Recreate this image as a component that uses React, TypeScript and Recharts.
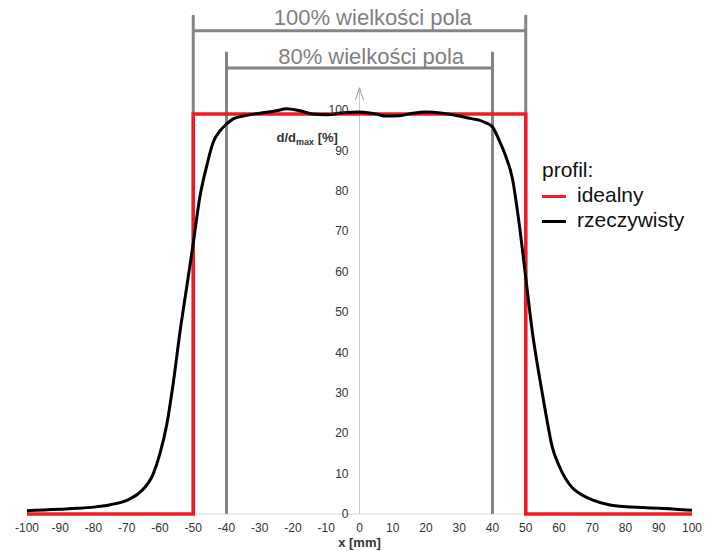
import React from 'react';
import {
  LineChart,
  Line,
  XAxis,
  YAxis,
  ReferenceLine,
  ReferenceDot
} from 'recharts';

// measured profile (x in mm, dose in % of max)
const measuredX = [
  -100, -95, -90, -85, -80, -75, -70, -66, -62, -60, -58, -56, -54, -52, -50, -48, -46, -44, -42, -40,
  -38, -35, -30, -25, -22, -18, -14, -10, -5, 0, 5, 8, 12, 16, 20, 25, 30, 34, 36, 38,
  40, 42, 44, 46, 48, 50, 52, 54, 56, 58, 60, 62, 64, 66, 70, 75, 80, 85, 90, 95, 100
];
const measuredY = [
  0.8, 1.0, 1.2, 1.4, 1.7, 2.3, 3.4, 5.4, 10, 15, 22, 32.5, 45, 56, 67, 78.5, 86, 92, 94.8, 96.5,
  97.8, 98.5, 99.2, 99.8, 100.3, 99.8, 99, 98.8, 99.3, 99.5, 99, 98.5, 98.6, 99.2, 99.5, 99.2, 98.5, 97.8, 97.5, 96.8,
  95.8, 92.5, 88.5, 83, 72, 58.5, 45, 34.5, 25, 16.5, 12, 8.7, 6.5, 5.2, 3.5, 2.3, 1.8, 1.6, 1.4, 1.2, 0.9
];

// ideal (rectangular) profile
const idealX = [-100, -50, -50, 50, 50, 100];
const idealY = [0, 0, 99, 99, 0, 0];

const xTicks = [-100, -90, -80, -70, -60, -50, -40, -30, -20, -10, 0, 10, 20, 30, 40, 50, 60, 70, 80, 90, 100];
const yTicks = [0, 10, 20, 30, 40, 50, 60, 70, 80, 90, 100];

const measured = measuredX.map((x, i) => ({ x, y: measuredY[i] }));
const ideal = idealX.map((x, i) => ({ x, y: idealY[i] }));

const GRAY = '#858585';
const FONT = '"Liberation Sans", Arial, sans-serif';

const YLabel = (props: any) => {
  const { viewBox } = props;
  return (
    <text x={viewBox.x} y={viewBox.y} textAnchor="end" fontFamily={FONT} fontWeight="bold" fontSize={13} fill="#333">
      d/d<tspan fontSize={9} dy={3}>max</tspan>
      <tspan dy={-3}> [%]</tspan>
    </text>
  );
};

const XLabel = (props: any) => {
  const { viewBox } = props;
  return (
    <text x={viewBox.x + viewBox.width / 2} y={viewBox.y + viewBox.height - 4} textAnchor="middle"
      fontFamily={FONT} fontWeight="bold" fontSize={13} fill="#333">
      x [mm]
    </text>
  );
};

export default function App() {
  return (
    <div style={{ position: 'absolute', left: 0, top: 0, width: 705, height: 551, background: '#fff', fontFamily: FONT }}>
      <LineChart width={705} height={551} margin={{ top: 9, right: 13, bottom: 0, left: 27 }}>
        <XAxis
          type="number"
          dataKey="x"
          domain={[-100, 100]}
          ticks={xTicks}
          interval={0}
          tickLine={false}
          axisLine={false}
          tick={{ fontSize: 12, fill: '#333', fontFamily: FONT }}
          tickMargin={3}
          height={37}
          label={<XLabel />}
        />
        <YAxis type="number" dataKey="y" domain={[0, 125]} hide />

        <ReferenceLine y={0} stroke="#d9d9d9" strokeWidth={1} />

        {/* centre axis with arrow */}
        <ReferenceLine segment={[{ x: 0, y: 0 }, { x: 0, y: 105.5 }]} stroke="#c8c8c8" strokeWidth={1} />
        <ReferenceLine segment={[{ x: -1.2, y: 102.5 }, { x: 0, y: 105.5 }]} stroke="#999" strokeWidth={1} />
        <ReferenceLine segment={[{ x: 1.2, y: 102.5 }, { x: 0, y: 105.5 }]} stroke="#999" strokeWidth={1} />

        {/* field size brackets */}
        <ReferenceLine segment={[{ x: -50, y: 0 }, { x: -50, y: 123.5 }]} stroke={GRAY} strokeWidth={3} />
        <ReferenceLine segment={[{ x: 50, y: 0 }, { x: 50, y: 123.5 }]} stroke={GRAY} strokeWidth={3} />
        <ReferenceLine segment={[{ x: -50, y: 119.6 }, { x: 50, y: 119.6 }]} stroke={GRAY} strokeWidth={3} />
        <ReferenceLine segment={[{ x: -40, y: 0 }, { x: -40, y: 114.4 }]} stroke={GRAY} strokeWidth={3} />
        <ReferenceLine segment={[{ x: 40, y: 0 }, { x: 40, y: 114.4 }]} stroke={GRAY} strokeWidth={3} />
        <ReferenceLine segment={[{ x: -40, y: 110.4 }, { x: 40, y: 110.4 }]} stroke={GRAY} strokeWidth={3} />

        <ReferenceDot x={4} y={123} r={0} fill="none" stroke="none"
          label={{ value: '100% wielkości pola', position: 'center', fill: '#7f7f7f', fontSize: 22, fontFamily: FONT }} />
        <ReferenceDot x={3.5} y={113.2} r={0} fill="none" stroke="none"
          label={{ value: '80% wielkości pola', position: 'center', fill: '#7f7f7f', fontSize: 22, fontFamily: FONT }} />

        {yTicks.map((v) => (
          <ReferenceDot key={v} x={0} y={v} r={0} fill="none" stroke="none"
            label={{ value: String(v), position: 'left', offset: 11, fontSize: 12, fill: '#333', fontFamily: FONT }} />
        ))}
        <ReferenceDot x={-6.5} y={92} r={0} fill="none" stroke="none" label={<YLabel />} />

        <Line data={ideal} dataKey="y" type="linear" stroke="#ed1c24" strokeWidth={3.5} dot={false} isAnimationActive={false} />
        <Line data={measured} dataKey="y" type="monotone" stroke="#000" strokeWidth={3} dot={false} isAnimationActive={false} />
      </LineChart>

      <div style={{ position: 'absolute', left: 542, top: 157, fontSize: 21, lineHeight: '25px', color: '#111' }}>
        <div>profil:</div>
        <div>
          <span style={{ display: 'inline-block', width: 24, height: 3, background: '#ed1c24', verticalAlign: 'middle', marginRight: 11 }} />
          idealny
        </div>
        <div>
          <span style={{ display: 'inline-block', width: 24, height: 3, background: '#000', verticalAlign: 'middle', marginRight: 11 }} />
          rzeczywisty
        </div>
      </div>
    </div>
  );
}
